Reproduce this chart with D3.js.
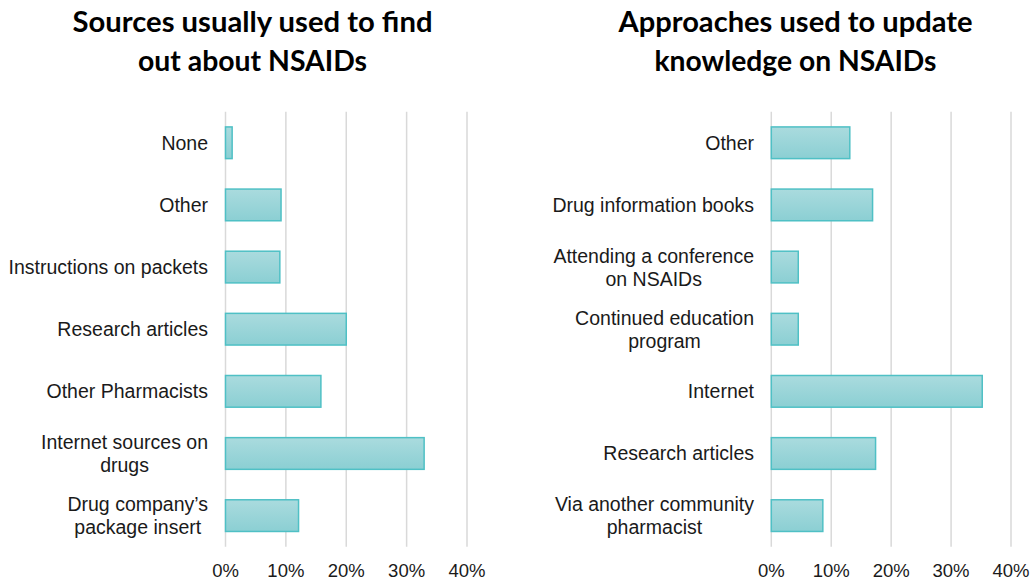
<!DOCTYPE html>
<html>
<head>
<meta charset="utf-8">
<script src="https://cdn.jsdelivr.net/npm/d3@7"></script>
<style>
  html, body { margin: 0; padding: 0; background: #fff; }
  svg { display: block; }
</style>
</head>
<body>
<svg id="chart" width="1030" height="580"></svg>
<script>
// ---- Data ----
const leftTitle = ["Sources usually used to find", "out about NSAIDs"];
const leftCategories = [
  "None",
  "Other",
  "Instructions on packets",
  "Research articles",
  "Other Pharmacists",
  "Internet sources on\ndrugs",
  "Drug company\u2019s\npackage insert"
];
const leftValues = [1.1, 9.2, 9.0, 20.0, 15.8, 32.9, 12.1];

const rightTitle = ["Approaches used to update", "knowledge on NSAIDs"];
const rightCategories = [
  "Other",
  "Drug information books",
  "Attending a conference\non NSAIDs",
  "Continued education\nprogram",
  "Internet",
  "Research articles",
  "Via another community\npharmacist"
];
const rightValues = [13.1, 16.9, 4.5, 4.5, 35.2, 17.4, 8.6];

const tickValues = [0, 10, 20, 30, 40];
const tickLabels = ["0%", "10%", "20%", "30%", "40%"];

// ---- Drawing ----
const svg = d3.select("#chart");
const defs = svg.append("defs");
const grad = defs.append("linearGradient").attr("id", "barGrad")
  .attr("x1", 0).attr("y1", 0).attr("x2", 0).attr("y2", 1);
grad.append("stop").attr("offset", "0%").attr("stop-color", "#aadbde");
grad.append("stop").attr("offset", "100%").attr("stop-color", "#8bcfd3");

const labelFont = "Liberation Sans, Arial, Helvetica, sans-serif";

function drawPanel(opts) {
  const g = svg.append("g");
  const x = d3.scaleLinear().domain([0, 40]).range([opts.x0, opts.x1]);
  const y = d3.scaleBand().domain(opts.categories).range([111.7, 546.7])
    .paddingInner(0.49).paddingOuter(0.245);

  // title
  opts.title.forEach((t, i) => {
    g.append("text")
      .attr("x", opts.titleX).attr("y", 32 + i * 39)
      .attr("text-anchor", "middle")
      .attr("font-family", "Lato, 'Open Sans', sans-serif")
      .attr("font-weight", "bold")
      .attr("font-size", 28.5)
      .attr("fill", "#000")
      .attr("textLength", opts.titleWidths[i])
      .attr("lengthAdjust", "spacingAndGlyphs")
      .text(t);
  });

  // gridlines
  g.selectAll("line.grid").data(opts.ticks).enter().append("line")
    .attr("class", "grid")
    .attr("x1", d => x(d)).attr("x2", d => x(d))
    .attr("y1", 111.7).attr("y2", 546.7)
    .attr("stroke", "#d9d9d9").attr("stroke-width", 1.5);

  // bars
  g.selectAll("rect.bar").data(opts.values).enter().append("rect")
    .attr("class", "bar")
    .attr("x", x(0))
    .attr("y", (d, i) => y(opts.categories[i]))
    .attr("width", d => x(d) - x(0))
    .attr("height", y.bandwidth())
    .attr("fill", "url(#barGrad)")
    .attr("stroke", "#4fc0c5").attr("stroke-width", 1.5);

  // category labels
  const fs = 19.5;
  opts.categories.forEach(c => {
    const lines = c.split("\n");
    const cy = y(c) + y.bandwidth() / 2;
    const lh = 23;
    const t = g.append("text")
      .attr("font-family", labelFont)
      .attr("font-size", fs)
      .attr("fill", "#1a1a1a");
    if (lines.length === 1) {
      t.attr("x", opts.labelRight).attr("y", cy + 7)
        .attr("text-anchor", "end").text(c);
    } else {
      const tmp = g.append("text").attr("font-family", labelFont)
        .attr("font-size", fs).text(lines[0]);
      let w = 0;
      lines.forEach(l => { tmp.text(l); w = Math.max(w, tmp.node().getComputedTextLength()); });
      tmp.remove();
      const cx = opts.labelRight - w / 2;
      t.attr("text-anchor", "middle");
      lines.forEach((l, i) => {
        t.append("tspan").attr("x", cx)
          .attr("y", cy + 7 + (i - (lines.length - 1) / 2) * lh)
          .text(l);
      });
    }
  });

  // tick labels
  g.selectAll("text.tick").data(opts.ticks).enter().append("text")
    .attr("class", "tick")
    .attr("x", d => x(d)).attr("y", 577)
    .attr("text-anchor", "middle")
    .attr("font-family", labelFont)
    .attr("font-size", 18.5)
    .attr("fill", "#1a1a1a")
    .text((d, i) => opts.tickLabels[i]);
}

drawPanel({
  title: leftTitle, titleX: 252.5, titleWidths: [360, 229],
  categories: leftCategories, values: leftValues,
  ticks: tickValues, tickLabels: tickLabels,
  x0: 225.5, x1: 467, labelRight: 208
});
drawPanel({
  title: rightTitle, titleX: 795.5, titleWidths: [354, 282],
  categories: rightCategories, values: rightValues,
  ticks: tickValues, tickLabels: tickLabels,
  x0: 771.3, x1: 1011, labelRight: 754
});
</script>
</body>
</html>
